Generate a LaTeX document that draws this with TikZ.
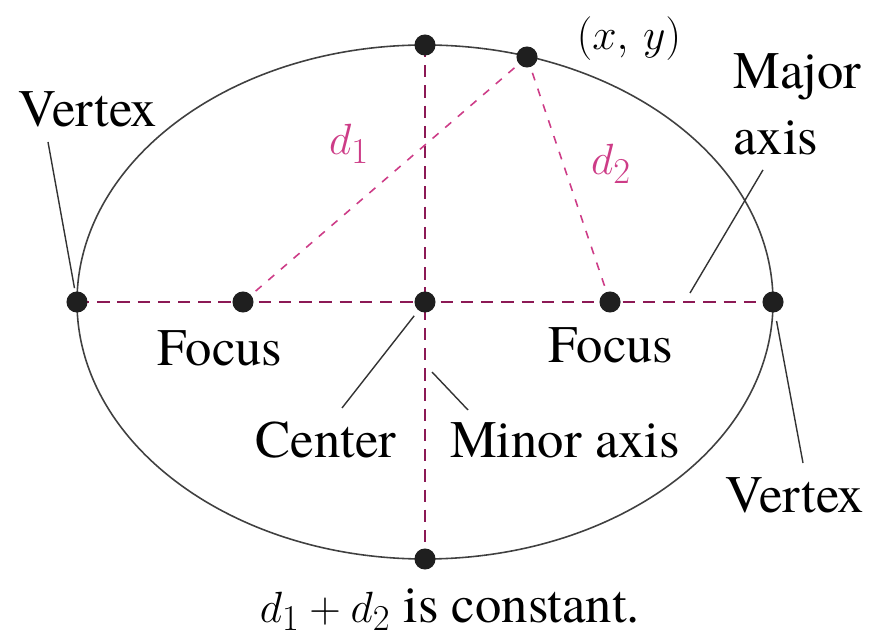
\documentclass[tikz,border=0pt]{standalone}
\usepackage{fontspec}
\setmainfont{texgyretermes}[Extension=.otf, UprightFont=*-regular, ItalicFont=*-italic, BoldFont=*-bold]
\definecolor{axiscol}{RGB}{140,25,85}
\definecolor{distcol}{RGB}{205,60,135}
\begin{document}
\begin{tikzpicture}[x=0.02cm, y=-0.02cm,
    lbl/.style={font=\fontsize{30}{38}\selectfont, inner sep=0pt, anchor=base},
    axisline/.style={dash pattern=on 7pt off 4.5pt, line width=1.1pt, axiscol},
    distline/.style={dash pattern=on 4.5pt off 5pt, line width=0.9pt, distcol},
    lead/.style={line width=0.8pt, black!80}]
  \useasboundingbox (0,0) rectangle (871,641);
  % key points
  \coordinate (O) at (425,302);
  \coordinate (V1) at (77,302);
  \coordinate (V2) at (773,302);
  \coordinate (F1) at (243,302);
  \coordinate (F2) at (610,302);
  \coordinate (T) at (425,45);
  \coordinate (B) at (425,559);
  \coordinate (P) at (527,57);
  % axes and distances
  \draw[axisline] (V1) -- (V2);
  \draw[axisline] (T) -- (B);
  \draw[distline] (F1) -- (P);
  \draw[distline] (P) -- (F2);
  \draw[line width=0.9pt, black!75] (O) ellipse (348 and 257);
  \foreach \p in {V1,V2,F1,F2,O,T,B,P}
    \fill[black!88] (\p) circle (6pt);
  % labels
  \node[lbl] (vtxL) at (88,127) {Vertex};
  \node[lbl, anchor=base west, align=left] (major) at (733,155) {Major\\axis};
  \node[lbl] (pt) at (629,50) {$(x,\,y)$};
  \node[lbl, text=distcol] (d1) at (349,155) {$d_1$};
  \node[lbl, text=distcol] (d2) at (611,175) {$d_2$};
  \node[lbl] (focL) at (220,365) {Focus};
  \node[lbl] (focR) at (611,362) {Focus};
  \node[lbl] (ctr) at (326,457) {Center};
  \node[lbl] (minor) at (565,457) {Minor axis};
  \node[lbl] (vtxR) at (795,512) {Vertex};
  \node[lbl] (sum) at (450,622) {$d_1 + d_2$ is constant.};
  % leaders
  \coordinate (majE) at (690,293);
  \coordinate (mnrE) at (432,372);
  \draw[lead, shorten >=8pt] ([shift={(-40,15)}]vtxL.base) -- (V1);
  \draw[lead] ([shift={(30,14)}]major.south west) -- (majE);
  \draw[lead, shorten >=10pt] ([shift={(16,-49)}]ctr.base) -- (O);
  \draw[lead] ([shift={(-97,-47)}]minor.base) -- (mnrE);
  \draw[lead, shorten <=11pt] (V2) -- ([shift={(8,-49)}]vtxR.base);
\end{tikzpicture}
\end{document}
